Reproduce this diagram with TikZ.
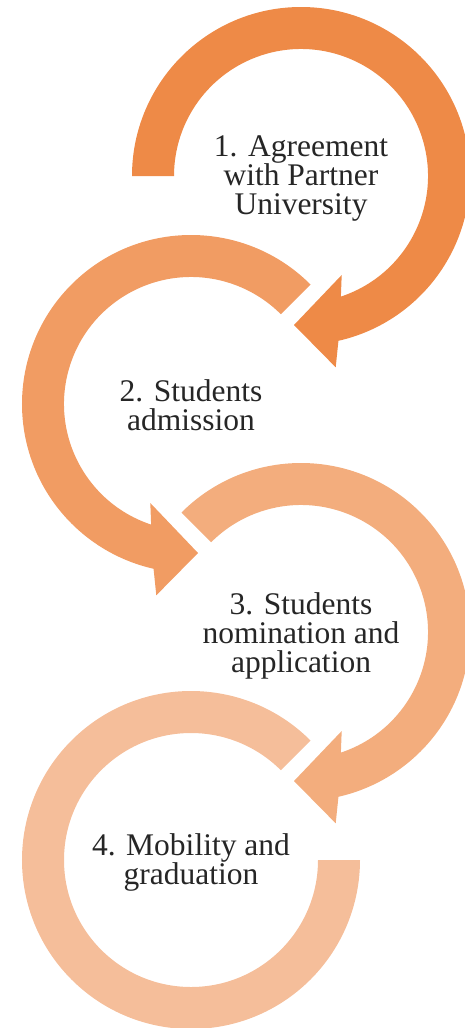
\documentclass[tikz,border=0pt]{standalone}
\usepackage{fontspec}
\setmainfont{Liberation Serif}
\definecolor{ringA}{HTML}{EE8A47}
\definecolor{ringB}{HTML}{F19C63}
\definecolor{ringC}{HTML}{F3AD7D}
\definecolor{ringD}{HTML}{F5BE9A}
\definecolor{txt}{HTML}{262626}
\begin{document}
\begin{tikzpicture}[x=1pt,y=1pt,
  lbl/.style={align=center, inner sep=0pt, text=txt, font=\fontsize{31.5}{29}\selectfont}]
\useasboundingbox (0,0) rectangle (465,-1028);
\coordinate (c1) at (301,-176);
\coordinate (c2) at (191,-404);
\coordinate (c3) at (301,-632);
\coordinate (c4) at (191,-860);
% ring 1: clockwise arrow starting at the left
\begin{scope}[shift={(c1)}]
\fill[ringA] (180:169pt) arc[start angle=180, end angle=-77.2, radius=169pt]
  -- (34.7pt,-191.3pt) -- (-7pt,-149pt) -- (40.7pt,-99pt)
  -- (-71.7:127pt) arc[start angle=-71.7, end angle=180, radius=127pt] -- cycle;
\end{scope}
% ring 2: counter-clockwise arrow
\begin{scope}[shift={(c2)}]
\fill[ringB] (45:169pt) arc[start angle=45, end angle=257.2, radius=169pt]
  -- (-34.7pt,-191.3pt) -- (7pt,-149pt) -- (-40.7pt,-99pt)
  -- (251.7:127pt) arc[start angle=251.7, end angle=45, radius=127pt] -- cycle;
\end{scope}
% ring 3: clockwise arrow
\begin{scope}[shift={(c3)}]
\fill[ringC] (135:169pt) arc[start angle=135, end angle=-77.2, radius=169pt]
  -- (34.7pt,-191.3pt) -- (-7pt,-149pt) -- (40.7pt,-99pt)
  -- (-71.7:127pt) arc[start angle=-71.7, end angle=135, radius=127pt] -- cycle;
\end{scope}
% ring 4: open ring, no arrow
\begin{scope}[shift={(c4)}]
\fill[ringD] (45:169pt) arc[start angle=45, end angle=360, radius=169pt]
  -- (0:127pt) arc[start angle=360, end angle=45, radius=127pt] -- cycle;
\end{scope}
\node[lbl] (t1) at ([yshift=-2pt]c1) {1. Agreement\\with Partner\\University};
\node[lbl] (t2) at ([yshift=-1pt]c2) {2. Students\\admission};
\node[lbl] (t3) at ([yshift=-4pt]c3) {3. Students\\nomination and\\application};
\node[lbl] (t4) at ([yshift=-2pt]c4) {4. Mobility and\\graduation};
\end{tikzpicture}
\end{document}
